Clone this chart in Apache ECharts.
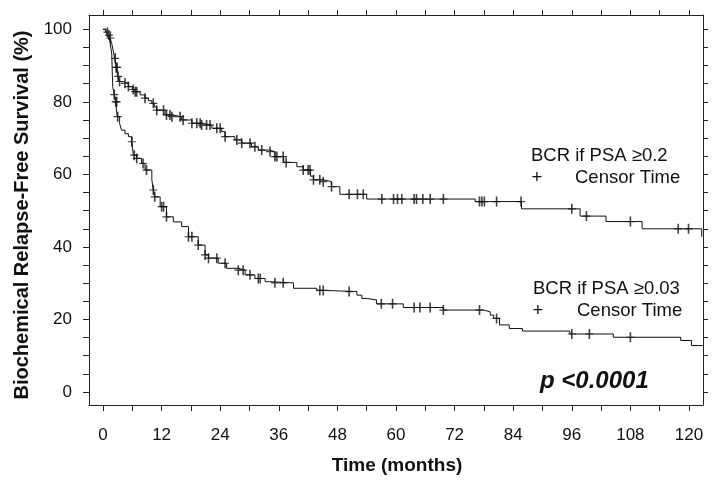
<!DOCTYPE html>
<html><head><meta charset="utf-8">
<script src="https://cdn.jsdelivr.net/npm/echarts@6/dist/echarts.min.js"></script>
<style>html,body{margin:0;padding:0;background:#fff}#c{width:722px;height:489px}</style>
</head><body><div id="c"></div>
<script>
// Axis ticks / labels
const xLabelValues = [0, 12, 24, 36, 48, 60, 72, 84, 96, 108, 120];
const xTickValues = [0, 6, 12, 18, 24, 30, 36, 42, 48, 54, 60, 66, 72, 78, 84, 90, 96, 102, 108, 114, 120];
const yLabelValues = [0, 20, 40, 60, 80, 100];
const yTickValues = [0, 5, 10, 15, 20, 25, 30, 35, 40, 45, 50, 55, 60, 65, 70, 75, 80, 85, 90, 95, 100];

// Series names
const seriesNames = ['BCR if PSA \u22650.2', 'BCR if PSA \u22650.03'];

// KM step points [month, survival %] : PSA >= 0.2
const curveHigh = [[0,100],[0.6,99.2],[1,98.4],[1.4,97.6],[1.8,96],[2.1,94],[2.4,92],[2.7,89.5],[3,87],[3.3,85.6],[4.2,85.1],[5.2,84.2],[6,83.4],[6.6,82.8],[7.6,81.9],[8.6,81],[9.3,80.3],[10,79.6],[10.5,78.6],[11,77.7],[12.7,76.4],[14.1,75.9],[16.1,75],[18.2,74.1],[20.2,73.6],[22.3,72.7],[24.3,71.8],[25,70.4],[27,69.5],[28.4,68.6],[30.4,67.6],[31.8,66.7],[33.9,66.3],[35.2,64.9],[37,63.3],[39.7,62.1],[41,61.2],[42.5,59.5],[43.1,58.5],[45.1,58],[46.8,56.6],[48.5,54.5],[54,53.2],[76.2,52.5],[85.7,50.5],[97.7,48.5],[103,47],[110.4,45],[122.6,42.8]];
const censorHigh = [0.9,1.5,2.5,2.7,2.9,3.1,3.4,4.5,5.2,6.2,6.6,6.9,8.6,10.3,11,12.4,13,13.7,14.1,15.8,16.4,18.2,19.2,19.9,20.2,21.2,21.9,23.3,24,25,27.4,28.4,30.1,31.1,32.5,34.2,35.2,35.6,36.9,37.5,41,42,42.4,43.1,44.4,45.1,46.8,50.4,52.1,53.3,57.1,59.5,60.3,61.2,63.7,64.2,65.5,67,69.7,77.1,77.6,78.1,80.6,85.6,96,99,108,117.8,119.9];

// KM step points : PSA >= 0.03
const curveLow = [[0,100],[0.6,99.2],[1,98.4],[1.4,96.8],[1.8,93],[1.9,88],[2.0,84],[2.3,82],[2.6,80],[2.9,75.9],[3.4,74],[3.8,72.2],[4.5,71.2],[5.2,70.4],[5.9,69],[6.2,65.3],[6.9,64.4],[7.9,63],[8.6,61.2],[10,58.5],[10.3,55.7],[10.6,53.8],[11.7,51.1],[13,48.3],[14.4,46.9],[16.1,45.6],[17.5,42.8],[19.5,40.5],[20.9,37.8],[21.6,36.9],[23.6,35.5],[25.3,34.1],[27.7,33.6],[29.1,32.3],[31.1,31.3],[33.2,30.4],[34.2,30.1],[39,28.6],[43.8,28],[45.5,27.7],[52,26.7],[53,25.8],[54,25.4],[56,24.3],[61.5,23.3],[69.7,22.6],[77.9,22.1],[79.3,21.2],[80,20.3],[81.2,18.5],[83.2,17.5],[85.9,16.8],[95.6,16],[104.5,15.1],[118.3,14.2],[120.5,12.8],[122.8,12.8]];
const censorLow = [1.2,2.3,2.6,2.8,3.0,5.9,6.4,6.9,8.2,8.9,10.3,10.6,12,12.4,13,17.5,18.2,19.5,20.9,21.6,23.3,25,27.7,28.7,30.1,31.8,32.2,35.2,36.9,44.4,45.1,50.4,57,59.3,63.7,64.9,67,69.7,77.1,80.6,96,99.6,108];

function survAt(curve, t) {
  let s = curve[0][1];
  for (const p of curve) { if (p[0] <= t) s = p[1]; else break; }
  return s;
}
const FONT = '"Liberation Sans", Arial, sans-serif';
const plus = 'path://M4,0H6V10H4Z M0,4.4H10V5.6H0Z';

const chart = echarts.init(document.getElementById('c'), null, {renderer: 'canvas'});
const axisLine = {show: true, onZero: false, lineStyle: {color: '#222', width: 1}};
chart.setOption({
  animation: false,
  backgroundColor: '#fff',
  grid: {left: 89, right: 19, top: 15, bottom: 84, containLabel: false},
  xAxis: [
    {type: 'value', position: 'bottom', min: -2.87, max: 122.87, axisLine,
     axisTick: {show: true, customValues: xTickValues, length: 6, lineStyle: {color: '#222'}},
     axisLabel: {show: true, customValues: xLabelValues, fontSize: 17, color: '#111', fontFamily: FONT, margin: 22},
     splitLine: {show: false}},
    {type: 'value', position: 'top', min: -2.87, max: 122.87, axisLine,
     axisTick: {show: true, customValues: xTickValues, length: 5, lineStyle: {color: '#222'}},
     axisLabel: {show: false}, splitLine: {show: false}}
  ],
  yAxis: [
    {type: 'value', position: 'left', min: -3.58, max: 103.94, axisLine,
     axisTick: {show: true, customValues: yTickValues, length: 6, lineStyle: {color: '#222'}},
     axisLabel: {show: true, customValues: yLabelValues, fontSize: 17, color: '#111', fontFamily: FONT, margin: 17},
     splitLine: {show: false}},
    {type: 'value', position: 'right', min: -3.58, max: 103.94, axisLine,
     axisTick: {show: true, customValues: yTickValues, length: 5, lineStyle: {color: '#222'}},
     axisLabel: {show: false}, splitLine: {show: false}}
  ],
  series: [
    {name: seriesNames[0], type: 'line', step: 'end', data: curveHigh, showSymbol: false,
     lineStyle: {color: '#111', width: 1}, xAxisIndex: 0, yAxisIndex: 0},
    {name: seriesNames[1], type: 'line', step: 'end', data: curveLow, showSymbol: false,
     lineStyle: {color: '#111', width: 1}, xAxisIndex: 0, yAxisIndex: 0},
    {type: 'scatter', data: censorHigh.map(t => [t, survAt(curveHigh, t)]), symbol: plus, symbolSize: [8, 10],
     itemStyle: {color: '#111'}},
    {type: 'scatter', data: censorLow.map(t => [t, survAt(curveLow, t)]), symbol: plus, symbolSize: [8, 10],
     itemStyle: {color: '#111'}}
  ],
  graphic: [
    {type: 'text', x: 22, y: 215, rotation: Math.PI / 2,
     style: {text: 'Biochemical Relapse-Free Survival (%)', font: 'bold 20px ' + FONT, fill: '#111',
             textAlign: 'center', textVerticalAlign: 'middle', align: 'center', verticalAlign: 'middle'}},
    {type: 'text', x: 397, y: 466,
     style: {text: 'Time (months)', font: 'bold 19px ' + FONT, fill: '#111',
             textAlign: 'center', textVerticalAlign: 'middle', align: 'center', verticalAlign: 'middle'}},
    {type: 'text', x: 531, y: 156,
     style: {text: seriesNames[0], font: '18.5px ' + FONT, fill: '#111', textVerticalAlign: 'middle', verticalAlign: 'middle'}},
    {type: 'text', x: 537, y: 178,
     style: {text: '+', font: '18.5px ' + FONT, fill: '#111', textAlign: 'center', align: 'center', textVerticalAlign: 'middle', verticalAlign: 'middle'}},
    {type: 'text', x: 575, y: 178,
     style: {text: 'Censor Time', font: '18.5px ' + FONT, fill: '#111', textVerticalAlign: 'middle', verticalAlign: 'middle'}},
    {type: 'text', x: 533, y: 289,
     style: {text: seriesNames[1], font: '18.5px ' + FONT, fill: '#111', textVerticalAlign: 'middle', verticalAlign: 'middle'}},
    {type: 'text', x: 538, y: 311,
     style: {text: '+', font: '18.5px ' + FONT, fill: '#111', textAlign: 'center', align: 'center', textVerticalAlign: 'middle', verticalAlign: 'middle'}},
    {type: 'text', x: 577, y: 311,
     style: {text: 'Censor Time', font: '18.5px ' + FONT, fill: '#111', textVerticalAlign: 'middle', verticalAlign: 'middle'}},
    {type: 'text', x: 540, y: 381,
     style: {text: 'p <0.0001', font: 'italic bold 24px ' + FONT, fill: '#111', textVerticalAlign: 'middle', verticalAlign: 'middle'}}
  ]
});
</script>
</body></html>
